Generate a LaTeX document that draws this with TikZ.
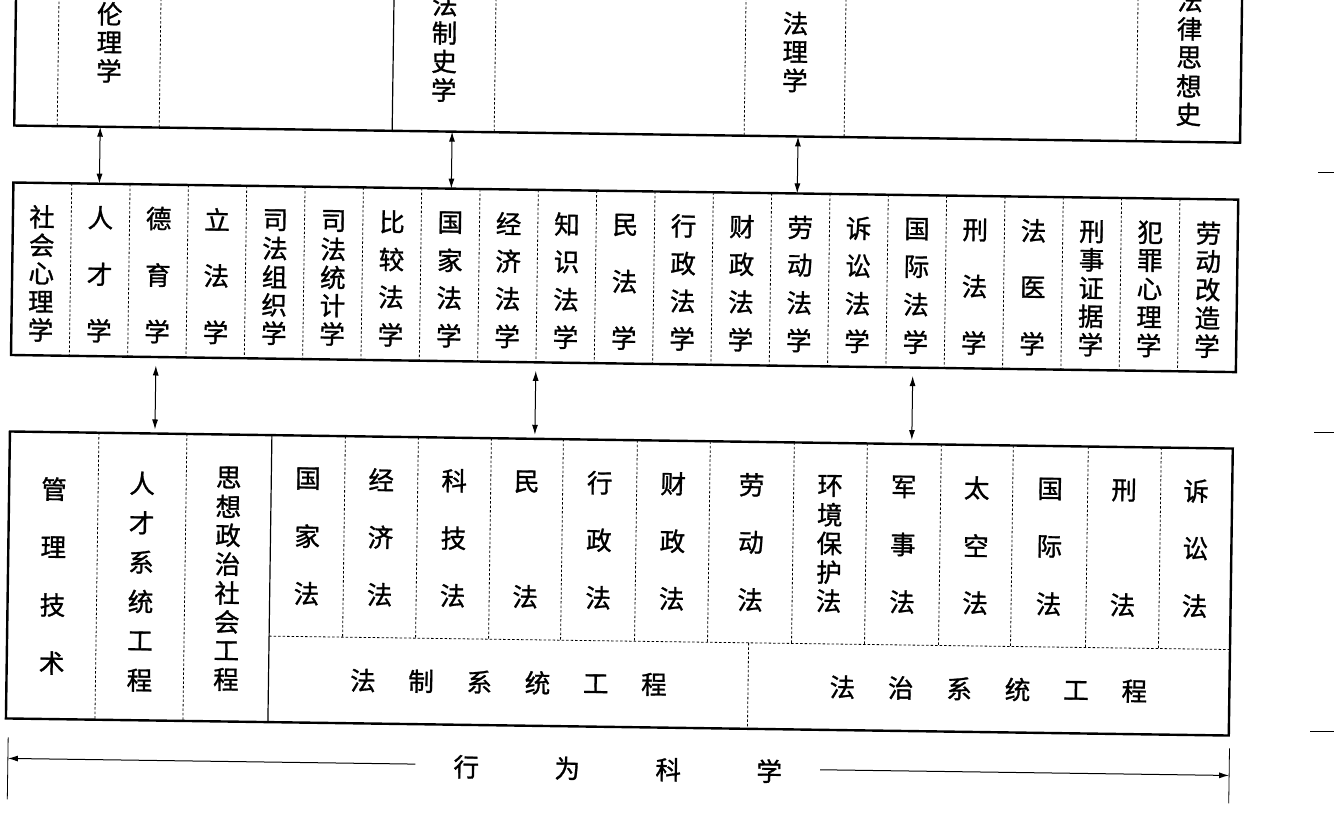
\documentclass[tikz,border=0pt]{standalone}
\usepackage{fontspec}
\newfontfamily\cjk[BoldFont={Noto Sans CJK SC},BoldFeatures={FakeBold=1.2}]{Noto Sans CJK SC}
\usetikzlibrary{arrows.meta}
\tikzset{
  frame/.style={draw=black, line width=2.4pt, inner sep=0pt, outer sep=0pt, transform shape},
  divdot/.style={draw=black, line width=0.8pt, dash pattern=on 2.5pt off 2pt},
  divsolid/.style={draw=black, line width=1.2pt},
  ch/.style={inner sep=0pt, font=\cjk\bfseries\fontsize{25.5}{25.5}\selectfont, transform shape},
  biarrow/.style={line width=1pt, {Latex[length=10pt,width=6pt]}-{Latex[length=10pt,width=6pt]}},
  rangearrow/.style={line width=1pt, -{Latex[length=10pt,width=6pt]}},
  rangebar/.style={line width=0.8pt},
  edgeline/.style={line width=1pt}
}
\newcommand\vcol[6]{%
  \foreach \ch [count=\k] in {#6}{%
    \pgfmathsetmacro\yy{#3+(\k-1)*(#4-#3)/max(#5-1,1)}%
    \node[ch] (#1-\k) at (#2,\yy) {\ch};%
  }}
\begin{document}
\begin{tikzpicture}[x=1pt,y=-1pt]
\useasboundingbox (0,0) rectangle (1334,833);
\clip (0,0) rectangle (1334,833);
\begin{scope}[rotate around={-0.8:(620,430)}]
% ---------- top box ----------
\node[frame, minimum width=1226pt, minimum height=174pt] (topbox) at (623,47) {};
\foreach \xx in {53,155,490,740,840,1132} \draw[divdot] (\xx,-40) -- (\xx,134);
\draw[divsolid] (388,-40) -- (388,134);
\vcol{t1}{104}{21}{78}{3}{伦,理,学}
\vcol{t2}{439}{7}{92.5}{4}{法,制,史,学}
\vcol{t3}{790}{21}{78}{3}{法,理,学}
\vcol{t4}{1184}{-7.5}{106.5}{5}{法,律,思,想,史}
% ---------- middle box ----------
\node[frame, minimum width=1225pt, minimum height=172.5pt] (midbox) at (622.5,277.25) {};
\foreach \i in {1,...,20} \draw[divdot] ({10+58.333*\i},191) -- ({10+58.333*\i},363.5);
\vcol{m1}{39.17}{225}{338}{5}{社,会,心,理,学}
\vcol{m2}{97.5}{225}{338}{3}{人,才,学}
\vcol{m3}{155.8}{225}{338}{3}{德,育,学}
\vcol{m4}{214.2}{225}{338}{3}{立,法,学}
\vcol{m5}{272.5}{225}{338}{5}{司,法,组,织,学}
\vcol{m6}{330.8}{225}{338}{5}{司,法,统,计,学}
\vcol{m7}{389.2}{225}{338}{4}{比,较,法,学}
\vcol{m8}{447.5}{225}{338}{4}{国,家,法,学}
\vcol{m9}{505.8}{225}{338}{4}{经,济,法,学}
\vcol{m10}{564.2}{225}{338}{4}{知,识,法,学}
\vcol{m11}{622.5}{225}{338}{3}{民,法,学}
\vcol{m12}{680.8}{225}{338}{4}{行,政,法,学}
\vcol{m13}{739.2}{225}{338}{4}{财,政,法,学}
\vcol{m14}{797.5}{225}{338}{4}{劳,动,法,学}
\vcol{m15}{855.8}{225}{338}{4}{诉,讼,法,学}
\vcol{m16}{914.2}{225}{338}{4}{国,际,法,学}
\vcol{m17}{972.5}{225}{338}{3}{刑,法,学}
\vcol{m18}{1030.8}{225}{338}{3}{法,医,学}
\vcol{m19}{1089.2}{225}{338}{5}{刑,事,证,据,学}
\vcol{m20}{1147.5}{225}{338}{5}{犯,罪,心,理,学}
\vcol{m21}{1205.8}{225}{338}{5}{劳,动,改,造,学}
% ---------- bottom box ----------
\node[frame, minimum width=1223pt, minimum height=287pt] (botbox) at (621.5,583.5) {};
\foreach \xx in {99,187} \draw[divdot] (\xx,440) -- (\xx,727);
\draw[divsolid] (272,440) -- (272,727);
\foreach \xx in {345.5,418.5,491.5,563.5,637.5,710.5,794.5,867.5,941.5,1013.5,1088.5,1161.5}
  \draw[divdot] (\xx,440) -- (\xx,641);
\draw[divdot] (272,641) -- (1233,641);
\draw[divdot] (751.6,641) -- (751.6,727);
\vcol{b1}{55}{497}{671}{4}{管,理,技,术}
\vcol{b2}{143}{490}{687}{6}{人,才,系,统,工,程}
\vcol{b3}{229.5}{483}{685}{8}{思,想,政,治,社,会,工,程}
\vcol{b4}{308.75}{483}{598}{3}{国,家,法}
\vcol{b5}{382}{483}{598}{3}{经,济,法}
\vcol{b6}{455}{483}{598}{3}{科,技,法}
\vcol{b7}{527.5}{483}{598}{2}{民,法}
\vcol{b8}{600.5}{483}{598}{3}{行,政,法}
\vcol{b9}{674}{483}{598}{3}{财,政,法}
\vcol{b10}{752.5}{483}{598}{3}{劳,动,法}
\vcol{b11}{831}{483}{598}{5}{环,境,保,护,法}
\vcol{b12}{904.5}{483}{598}{3}{军,事,法}
\vcol{b13}{977.5}{483}{598}{3}{太,空,法}
\vcol{b14}{1051}{483}{598}{3}{国,际,法}
\vcol{b15}{1125}{483}{598}{2}{刑,法}
\vcol{b16}{1197}{483}{598}{3}{诉,讼,法}
\foreach \ch [count=\k] in {法,制,系,统,工,程}
  \node[ch] (fz-\k) at ({366.5+58.2*(\k-1)},684) {\ch};
\foreach \ch [count=\k] in {法,治,系,统,工,程}
  \node[ch] (fzh-\k) at ({846+58.4*(\k-1)},684) {\ch};
% ---------- arrows between boxes ----------
\coordinate (a1s) at (96,134);   \coordinate (a1e) at (96,191);
\coordinate (a2s) at (448,134);  \coordinate (a2e) at (448,191);
\coordinate (a3s) at (794,134);  \coordinate (a3e) at (794,191);
\coordinate (b1s) at (155,372);  \coordinate (b1e) at (155,436);
\coordinate (b2s) at (535,372);  \coordinate (b2e) at (535,436);
\coordinate (b3s) at (912,372);  \coordinate (b3e) at (912,436);
\draw[biarrow] (a1s) -- (a1e);
\draw[biarrow] (a2s) -- (a2e);
\draw[biarrow] (a3s) -- (a3e);
\draw[biarrow] (b1s) -- (b1e);
\draw[biarrow] (b2s) -- (b2e);
\draw[biarrow] (b3s) -- (b3e);
% ---------- range line ----------
\coordinate (lbt) at (12.5,746); \coordinate (lbb) at (12.5,808);
\coordinate (rbt) at (1234,740); \coordinate (rbb) at (1234,795);
\draw[rangebar] (lbt) -- (lbb);
\draw[rangebar] (rbt) -- (rbb);
\foreach \ch/\xx [count=\k] in {行/471,为/572,科/673,学/774}
  \node[ch] (xw-\k) at (\xx,769) {\ch};
\coordinate (ll) at (420,767); \coordinate (lend) at (12.5,767);
\coordinate (rl) at (825,767); \coordinate (rend) at (1234,767);
\draw[rangearrow] (ll) -- (lend);
\draw[rangearrow] (rl) -- (rend);
\end{scope}
% ---------- stray marks at right edge ----------
\coordinate (e1a) at (1318,172); \coordinate (e1b) at (1334,172);
\coordinate (e2a) at (1314,432); \coordinate (e2b) at (1334,432);
\coordinate (e3a) at (1310,731); \coordinate (e3b) at (1334,731);
\draw[edgeline] (e1a) -- (e1b);
\draw[edgeline] (e2a) -- (e2b);
\draw[edgeline] (e3a) -- (e3b);
\end{tikzpicture}
\end{document}
